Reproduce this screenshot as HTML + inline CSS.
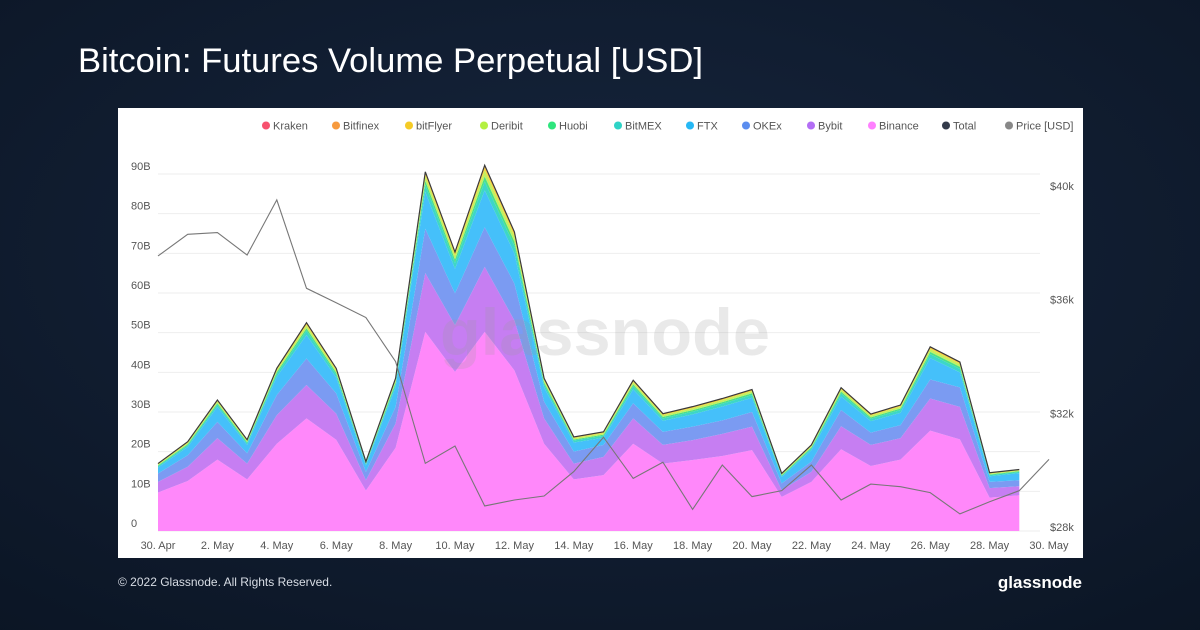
<!DOCTYPE html>
<html><head><meta charset="utf-8">
<style>
html,body{margin:0;padding:0;width:1200px;height:630px;overflow:hidden;background:#0f1c2e;}
svg{display:block;font-family:"Liberation Sans",sans-serif;}
</style></head>
<body>
<svg id="chart" width="1200" height="630" viewBox="0 0 1200 630">
<defs>
<radialGradient id="bg" cx="50%" cy="40%" r="80%">
<stop offset="0" stop-color="#16253d"/><stop offset="1" stop-color="#0b1524"/>
</radialGradient>
</defs>
<rect width="1200" height="630" fill="url(#bg)"/>
<text x="78" y="72" font-size="34" fill="#ffffff" textLength="625" lengthAdjust="spacingAndGlyphs">Bitcoin: Futures Volume Perpetual [USD]</text>
<rect x="118" y="108" width="965" height="450" fill="#ffffff"/>
<g id="grid"></g>
<g id="areas"></g>
<text x="440" y="355" font-size="66" font-weight="bold" fill="#9a9a9a" fill-opacity="0.22" textLength="330" lengthAdjust="spacingAndGlyphs">glassnode</text>
<g id="lines"></g>
<g id="axes"></g>
<g id="legend"></g>
<text x="118" y="586" font-size="12" fill="#d8dde5">© 2022 Glassnode. All Rights Reserved.</text>
<text x="1082" y="588" font-size="17" font-weight="bold" fill="#ffffff" text-anchor="end">glassnode</text>
</svg>
<script>
const dates = ["30. Apr","2. May","4. May","6. May","8. May","10. May","12. May","14. May","16. May","18. May","20. May","22. May","24. May","26. May","28. May","30. May"];
const yTicks = [0,10,20,30,40,50,60,70,80,90];
const priceTicks = [28000,32000,36000,40000];
const binance = [9.7,12.6,18,13,22,28.4,23,10.2,21,50.2,40.1,50.2,40.5,22,13,14.1,22,17,17.9,18.9,20.4,8.6,12.4,20.6,16.4,18,25.3,23.1,8.4,9];
const bybit = [2.7,3.6,5.4,4,7.2,8.4,6.6,2.6,6.1,14.8,11.8,16.4,12.6,6.4,4,4.6,6.4,4.7,5,5.6,5.9,1.7,2.5,5.8,5.3,5.4,8.1,8.2,2.4,2.3];
const okex = [2.1,2.9,4.1,2.6,5.1,6.7,5.1,2.1,4.2,11.2,8,10,9.3,4.2,3,3,3.8,3.3,3.4,3.4,3.7,1.7,2.6,4.1,3.1,3.3,4.8,4.9,1.6,1.5];
const ftx = [1.5,2.1,3.8,2.1,4.6,5.9,4,1.6,5,9.3,6.2,9.3,7.6,3.6,2.3,1.8,3.5,2.8,3.1,3.5,3.6,1.6,2.9,3.4,2.9,3.1,5.4,3.8,1.4,1.8];
const bitmex = [0.35,0.45,0.6,0.45,0.75,1.1,0.8,0.35,0.8,1.8,1.5,2.2,1.9,0.8,0.5,0.5,0.8,0.6,0.7,0.7,0.7,0.3,0.45,0.8,0.6,0.7,1.0,0.9,0.3,0.3];
const huobi = [0.2,0.26,0.34,0.26,0.42,0.62,0.46,0.2,0.44,1.0,0.84,1.26,1.08,0.46,0.28,0.3,0.46,0.36,0.38,0.4,0.42,0.18,0.26,0.44,0.36,0.38,0.56,0.52,0.18,0.18];
const deribit = [0.25,0.33,0.43,0.33,0.53,0.78,0.58,0.25,0.55,1.25,1.05,1.58,1.35,0.58,0.35,0.38,0.58,0.45,0.48,0.5,0.53,0.23,0.33,0.55,0.45,0.48,0.7,0.65,0.23,0.23];
const bitflyer = [0.12,0.16,0.2,0.16,0.25,0.37,0.28,0.12,0.26,0.6,0.5,0.76,0.65,0.28,0.17,0.18,0.28,0.22,0.23,0.24,0.25,0.11,0.16,0.26,0.22,0.23,0.34,0.31,0.11,0.11];
const bitfinex = [0.05,0.07,0.09,0.07,0.1,0.16,0.12,0.05,0.11,0.25,0.21,0.32,0.27,0.12,0.07,0.08,0.12,0.09,0.1,0.1,0.11,0.05,0.07,0.11,0.09,0.1,0.14,0.13,0.05,0.05];
const kraken = [0.03,0.04,0.05,0.04,0.06,0.09,0.07,0.03,0.07,0.15,0.13,0.19,0.16,0.07,0.04,0.05,0.07,0.05,0.06,0.06,0.06,0.03,0.04,0.07,0.05,0.06,0.08,0.08,0.03,0.03];
const price = [37537,38300,38360,37570,39510,36400,35890,35370,33820,30240,30850,28740,28950,29090,29950,31160,29710,30280,28620,30180,29070,29280,30180,28950,29510,29420,29210,28460,28890,29280,30380];

const NS="http://www.w3.org/2000/svg";
function el(tag,attrs,parent){const e=document.createElementNS(NS,tag);for(const k in attrs)e.setAttribute(k,attrs[k]);parent.appendChild(e);return e;}
const X0=158, X1=1049, Y0=531, Y90=174;
function x(i){return X0+(X1-X0)*i/30;}
function y(v){return Y0-(Y0-Y90)*v/90;}
function py(p){return 527-(p-28000)*341/12000;}

const grid=document.getElementById('grid'), axes=document.getElementById('axes');
yTicks.forEach(t=>{
  const g=el('line',{x1:158,x2:1040,y1:y(t),y2:y(t),stroke:'#eeeeee','stroke-width':1},grid);
  
  
  const tx=el('text',{x:131,y:y(t)-4,'font-size':11,fill:'#555'},axes);
  tx.textContent=t===0?'0':t+'B';
  
  
});
priceTicks.forEach(p=>{
  const tx=el('text',{x:1050,y:py(p)+4,'font-size':11,fill:'#555'},axes);
  tx.textContent='$'+(p/1000)+'k';
  
  
});
dates.forEach((d,k)=>{
  const tx=el('text',{x:x(k*2),y:549,'font-size':11,fill:'#555','text-anchor':'middle'},axes);
  tx.textContent=d;
  
  
});

const series=[
 ['binance',binance,'#ff88fa'],['bybit',bybit,'#c67ef2'],['okex',okex,'#7b9bf2'],['ftx',ftx,'#45c0fa'],
 ['bitmex',bitmex,'#3dd6c8'],['huobi',huobi,'#4ae08a'],['deribit',deribit,'#c3f060'],['bitflyer',bitflyer,'#f5d43a'],
 ['bitfinex',bitfinex,'#f79a3e'],['kraken',kraken,'#f7516e']];
const areas=document.getElementById('areas');
let base=binance.map(()=>0);
series.forEach(([name,vals,col])=>{
  const top=base.map((b,i)=>b+vals[i]);
  let d='M'+top.map((v,i)=>x(i)+','+y(v)).join('L');
  for(let i=base.length-1;i>=0;i--) d+='L'+x(i)+','+y(base[i]);
  const p=el('path',{d:d+'Z',fill:col},areas);
  
  
  base=top;
});
const lines=document.getElementById('lines');
const tl=el('path',{d:'M'+base.map((v,i)=>x(i)+','+y(v)).join('L'),fill:'none',stroke:'#3a3a3a','stroke-width':1.2},lines);


const pl=el('path',{d:'M'+price.map((v,i)=>x(i)+','+py(v)).join('L'),fill:'none',stroke:'#777','stroke-width':1.1},lines);



const legendItems=[['Kraken','#f7516e',266],['Bitfinex','#f79a3e',336],['bitFlyer','#f5cb26',409],['Deribit','#b3f042',484],['Huobi','#2ee57d',552],['BitMEX','#2ed3c6',618],['FTX','#26b8f5',690],['OKEx','#5b8def',746],['Bybit','#b36ef5',811],['Binance','#ff80ff',872],['Total','#333a4a',946],['Price [USD]','#888888',1009]];
const lg=document.getElementById('legend');
legendItems.forEach(([n,c,lx])=>{
  const g=el('g',{},lg);
  
  
  el('circle',{cx:lx,cy:125.5,r:4,fill:c},g);
  const t=el('text',{x:lx+7,y:129.5,'font-size':11,fill:'#555'},g);
  t.textContent=n;
});
</script>
</body></html>
